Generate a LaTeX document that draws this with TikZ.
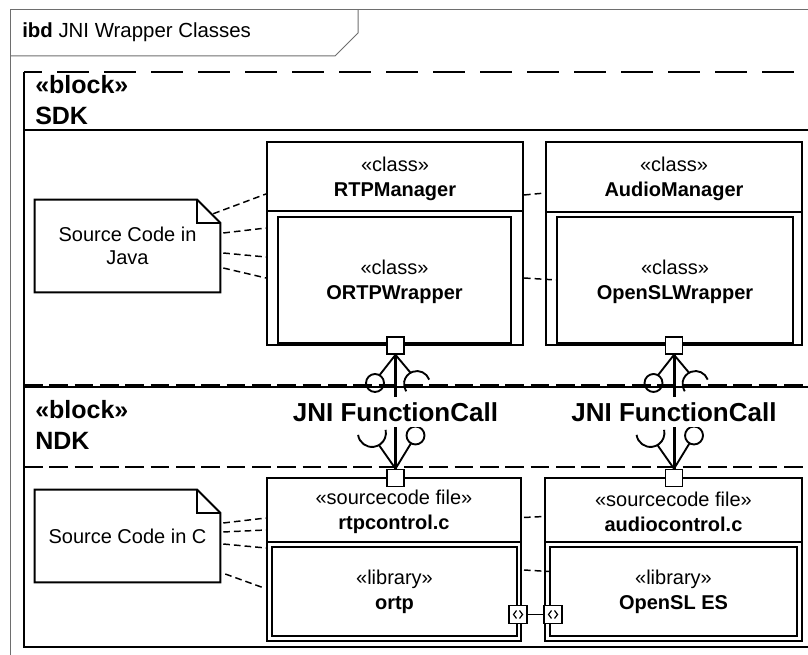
\documentclass[tikz,border=0pt]{standalone}
\usepackage{fontspec}
\setmainfont{Liberation Sans}
\usetikzlibrary{calc,fit}

\newcommand{\notebox}[1]
{
	\draw[notes] (#1.north west) -- ($(#1.north east)+(-23,0)$) -- ($(#1.north east)+(0,23)$)
	-- (#1.south east) -- (#1.south west) -- cycle;
	\draw[notes] ($(#1.north east)+(-23,0)$) -- ($(#1.north east)+(-23,23)$) -- ($(#1.north east)+(0,23)$);
}
\newcommand{\jnilink}[2]
{
	\draw[jni] (#1) -- (#2);
	% upper ball and socket
	\draw[lolly] (#1.south) -- ($(#1)+(-16,29.7)$);
	\draw[lolly] ($(#1)+(-20.5,37.5)$) circle[radius=9];
	\draw[lolly] (#1.south) -- ($(#1)+(15,27.2)$);
	\draw[lolly] ($(#1)+(33.7,34.1)$) arc[start angle=-20, end angle=-214, radius=13];
	% lower ball and socket
	\draw[lolly] (#2.north) -- ($(#2)+(15.5,-34.7)$);
	\draw[lolly] ($(#2)+(20,-42.5)$) circle[radius=9];
	\draw[lolly] (#2.north) -- ($(#2)+(-16.5,-32.9)$);
	\draw[lolly] ($(#2)+(-37.4,-43.1)$) arc[start angle=172, end angle=-13, radius=14];
}

\tikzset{
	frame/.style={line width=0.75pt, draw={rgb,255:red,110;green,110;blue,110}},
	blk/.style={line width=1.5pt},
	blkdash/.style={line width=1.5pt, dash pattern=on 24pt off 11.25pt, dash phase=10.5pt},
	ndkdash/.style={line width=1.5pt, dash pattern=on 14pt off 5pt},
	box/.style={draw, line width=1.5pt, inner sep=0pt},
	lbl/.style={align=center, inner sep=0pt, font=\fontsize{15}{18.75}\selectfont},
	head/.style={align=left, inner sep=0pt, anchor=north west, font=\fontsize{18.75}{23.25}\selectfont\bfseries},
	notes/.style={line width=1.5pt},
	trace/.style={line width=1.1pt, dash pattern=on 5pt off 3pt},
	port/.style={draw, line width=1.2pt, fill=white, minimum size=12.75pt, inner sep=0pt},
	ioport/.style={port, minimum size=13.5pt,
		path picture={
			\draw[line width=0.9pt] ($(path picture bounding box.center)+(-1.5,-4)$) -- ++(-3,4) -- ++(3,4);
			\draw[line width=0.9pt] ($(path picture bounding box.center)+(1.5,-4)$) -- ++(3,4) -- ++(-3,4);
		}},
	jni/.style={line width=2.25pt},
	lolly/.style={line width=1.4pt},
	jnitxt/.style={fill=white, inner sep=4pt, font=\fontsize{19.5}{22}\selectfont\bfseries}
}

\begin{document}
\begin{tikzpicture}[x=0.75pt, y=-0.75pt]
	\useasboundingbox (0,0) rectangle (808,655);
	\clip (0,0) rectangle (808,655);

	% diagram frame
	\draw[frame] (10,660) -- (10,10) -- (815,10);
	\draw[frame] (10,56) -- (335,56) -- (358,33) -- (358,10);
	\node[anchor=base west, inner sep=0pt, font=\fontsize{15.3}{18}\selectfont] (title) at (22,38)
	{\textbf{ibd} JNI Wrapper Classes};

	% blocks
	\draw[blkdash] (24,72) -- (815,72);
	\draw[blk] (24,72) -- (24,647) -- (815,647);
	\draw[blk] (24,130) -- (815,130);
	\draw[blk] (24,387.3) -- (815,387.3);
	\draw[ndkdash] (24,385.5) -- (815,385.5);
	\draw[ndkdash] (24,467) -- (815,467);
	\node[head] (sdk) at (35,75) {«block»\\SDK};
	\node[head] (ndk) at (35,400) {«block»\\NDK};

	% SDK classes
	\node[box, fit={(267,142) (523,345)}] (rtpm) {};
	\draw[blk] (rtpm.west |- 0,211) -- (rtpm.east |- 0,211);
	\node[box, fit={(278,217) (511,343)}] (ortpw) {};
	\node[box, fit={(546,142) (802,345)}] (audm) {};
	\draw[blk] (audm.west |- 0,212) -- (audm.east |- 0,212);
	\node[box, fit={(557,217) (793,343)}] (oslw) {};
	\node[lbl] (rtpmlbl) at (395,178.5) {«class»\\\textbf{RTPManager}};
	\node[lbl] (ortpwlbl) at (394.5,282) {«class»\\\textbf{ORTPWrapper}};
	\node[lbl] (audmlbl) at (674,178.5) {«class»\\\textbf{AudioManager}};
	\node[lbl] (oslwlbl) at (675,282) {«class»\\\textbf{OpenSLWrapper}};

	% NDK files
	\node[box, fit={(267,478) (521,641)}] (rtpc) {};
	\draw[blk] (rtpc.west |- 0,542) -- (rtpc.east |- 0,542);
	\node[box, fit={(272,547) (517,636)}] (ortp) {};
	\node[box, fit={(545,478) (802,641)}] (audc) {};
	\draw[blk] (audc.west |- 0,542) -- (audc.east |- 0,542);
	\node[box, fit={(550,547) (797,636)}] (oslib) {};
	\node[lbl] (rtpclbl) at (394,512) {«sourcecode file»\\\textbf{rtpcontrol.c}};
	\node[lbl] (ortplbl) at (394.5,591.5) {«library»\\\textbf{ortp}};
	\node[lbl] (audclbl) at (673.5,512) {«sourcecode file»\\\textbf{audiocontrol.c}};
	\node[lbl] (osliblbl) at (673.5,591.5) {«library»\\\textbf{OpenSL ES}};

	% notes
	\node[inner sep=0pt, fit={(35,200) (220,292)}] (njava) {};
	\notebox{njava}
	\node[lbl, font=\fontsize{15}{17.25}\selectfont] (njavalbl) at (njava) {Source Code in\\Java};
	\node[inner sep=0pt, fit={(35,490) (220,582)}] (nc) {};
	\notebox{nc}
	\node[lbl] (nclbl) at (nc) {Source Code in C};

	% anchors of notes
	\draw[trace] ($(njava.north east)+(-7,14)$) -- ($(rtpm.west)+(0,-49.5)$);
	\draw[trace] ($(njava.east)+(3,-13)$) -- ($(rtpm.west)+(0,-15.5)$);
	\draw[trace] ($(njava.east)+(3,7)$) -- ($(rtpm.west)+(0,13.5)$);
	\draw[trace] ($(njava.east)+(3,22)$) -- ($(rtpm.west)+(0,34.5)$);
	\draw[trace] ($(nc.east)+(3,-13)$) -- ($(rtpc.west)+(0,-41.5)$);
	\draw[trace] ($(nc.east)+(3,-4)$) -- ($(rtpc.west)+(0,-29.5)$);
	\draw[trace] ($(nc.east)+(3,8)$) -- ($(rtpc.west)+(0,-11.5)$);
	\draw[trace] ($(nc.east)+(5,38)$) -- ($(rtpc.west)+(-2,28.5)$);
	\draw[trace] ($(rtpm.east)+(0,-48.5)$) -- ($(audm.west)+(0,-50.5)$);
	\draw[trace] ($(rtpm.east)+(0,34.5)$) -- (oslw.west);
	\draw[trace] ($(rtpc.east)+(2,-42)$) -- ($(audc.west)+(0,-43)$);
	\draw[trace] ($(rtpc.east)+(2,10.5)$) -- ($(oslib.west)+(0,-20)$);

	% ports
	\node[port] (p1) at (395.5,345.5) {};
	\node[port] (p2) at (674,345.5) {};
	\node[port] (p3) at (395.5,478) {};
	\node[port] (p4) at (674,478) {};
	\node[ioport] (q1) at (518,614.5) {};
	\node[ioport] (q2) at (553,614.5) {};
	\draw[lolly] (q1) -- (q2);

	% JNI calls
	\jnilink{p1}{p3}
	\jnilink{p2}{p4}
	\node[jnitxt] (jnirtp) at ($(p1)!0.5!(p3)$) {JNI FunctionCall};
	\node[jnitxt] (jniaudio) at ($(p2)!0.5!(p4)$) {JNI FunctionCall};
\end{tikzpicture}
\end{document}
